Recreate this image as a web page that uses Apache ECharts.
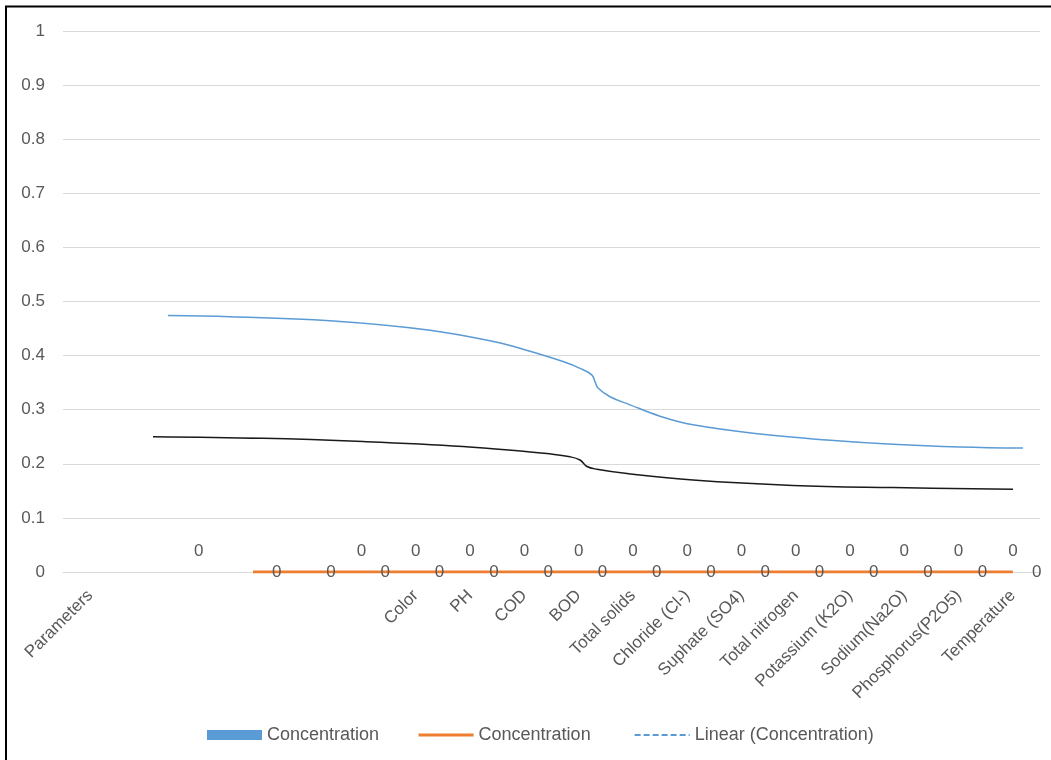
<!DOCTYPE html>
<html>
<head>
<meta charset="utf-8">
<script src="https://cdn.jsdelivr.net/npm/echarts@6/dist/echarts.min.js"></script>
<style>html,body{margin:0;padding:0;background:#fff;}#chart{width:1051px;height:760px;}</style>
</head>
<body>
<div id="chart"></div>
<script>
const categories = ['Parameters','','','','','','Color','PH','COD','BOD','Total solids','Chloride (Cl-)','Suphate (SO4)','Total nitrogen','Potassium (K2O)','Sodium(Na2O)','Phosphorus(P2O5)','Temperature'];
const barValues = ['-','-',0,'-','-',0,0,0,0,0,0,0,0,0,0,0,0,0];
const lineValues = ['-','-','-',0,0,0,0,0,0,0,0,0,0,0,0,0,0,0];
const trendX = [1.434, 2.577, 4.419, 6.262, 7.496, 8.104, 8.712, 9.025, 9.246, 9.301, 9.357, 9.578, 9.946, 10.499, 11.107, 12.341, 13.576, 14.792, 16.026, 17.187];
const trendY = [0.474, 0.472, 0.4645, 0.447, 0.4246, 0.408, 0.389, 0.3765, 0.364, 0.352, 0.340, 0.324, 0.309, 0.288, 0.272, 0.255, 0.244, 0.236, 0.231, 0.229];
const curve2X = [1.158, 3.185, 5.027, 6.869, 8.104, 8.417, 8.841, 9.025, 9.154, 9.338, 9.891, 11.107, 12.949, 14.792, 17.003];
const curve2Y = [0.250, 0.247, 0.241, 0.232, 0.222, 0.219, 0.213, 0.207, 0.195, 0.190, 0.182, 0.170, 0.160, 0.156, 0.153];
const yTicks = {min: 0, max: 1, interval: 0.1};

const FONT = 'Liberation Sans';
const TXT = '#595959';
const chart = echarts.init(document.getElementById('chart'), null, {renderer: 'canvas'});
chart.setOption({
  backgroundColor: '#fff',
  animation: false,
  textStyle: {fontFamily: FONT},
  grid: {left: 63, right: 11, top: 31, bottom: 188, containLabel: false},
  xAxis: [{
    type: 'category',
    data: categories,
    axisLine: {show: true, lineStyle: {color: '#D9D9D9', width: 1}},
    axisTick: {show: false},
    axisLabel: {interval: 0, rotate: 45, margin: 21, color: TXT, fontSize: 17, fontFamily: FONT},
    splitLine: {show: false}
  }, {
    type: 'value', min: -0.5, max: 17.5, show: false
  }],
  yAxis: {
    type: 'value', min: yTicks.min, max: yTicks.max, interval: yTicks.interval,
    axisLine: {show: false}, axisTick: {show: false},
    axisLabel: {color: TXT, fontSize: 17, margin: 18, fontFamily: FONT},
    splitLine: {lineStyle: {color: '#D9D9D9', width: 1}}
  },
  legend: {
    left: 202, top: 721, itemWidth: 55, itemHeight: 10, itemGap: 38,
    textStyle: {color: TXT, fontSize: 18, fontFamily: FONT},
    data: [
      {name: 'Concentration', icon: 'rect'},
      {name: 'Concentration ', lineStyle: {width: 3, color: '#ED7D31'}, itemStyle: {opacity: 0}},
      {name: 'Linear (Concentration)', lineStyle: {type: [6, 3], width: 2, color: '#5B9BD5'}, itemStyle: {opacity: 0}}
    ]
  },
  graphic: [{
    type: 'polyline', silent: true,
    shape: {points: [[6, 760], [6, 6.5], [1051, 6.5]]},
    style: {stroke: '#000', lineWidth: 2, fill: null}
  }],
  series: [{
    name: 'Concentration', type: 'bar', data: barValues,
    itemStyle: {color: '#5B9BD5'}, barWidth: 30,
    label: {show: true, position: 'top', distance: 12, color: TXT, fontSize: 17, fontFamily: FONT}
  }, {
    name: 'Concentration ', type: 'line', data: lineValues, showSymbol: true, symbol: 'circle', symbolSize: 0.1,
    lineStyle: {color: '#ED7D31', width: 3}, itemStyle: {color: '#ED7D31'},
    label: {show: true, position: 'right', distance: 19, color: TXT, fontSize: 17, fontFamily: FONT}
  }, {
    name: 'Linear (Concentration)', type: 'line', xAxisIndex: 1,
    data: trendX.map((x, i) => [x, trendY[i]]), symbol: 'none', smooth: 0.4,
    lineStyle: {color: '#5B9BD5', width: 1.5}, itemStyle: {color: '#5B9BD5'}
  }, {
    name: 'Trend 2', type: 'line', xAxisIndex: 1,
    data: curve2X.map((x, i) => [x, curve2Y[i]]), symbol: 'none', smooth: 0.4,
    lineStyle: {color: '#1a1a1a', width: 1.5}, itemStyle: {color: '#1a1a1a'}
  }]
});
</script>
</body>
</html>
